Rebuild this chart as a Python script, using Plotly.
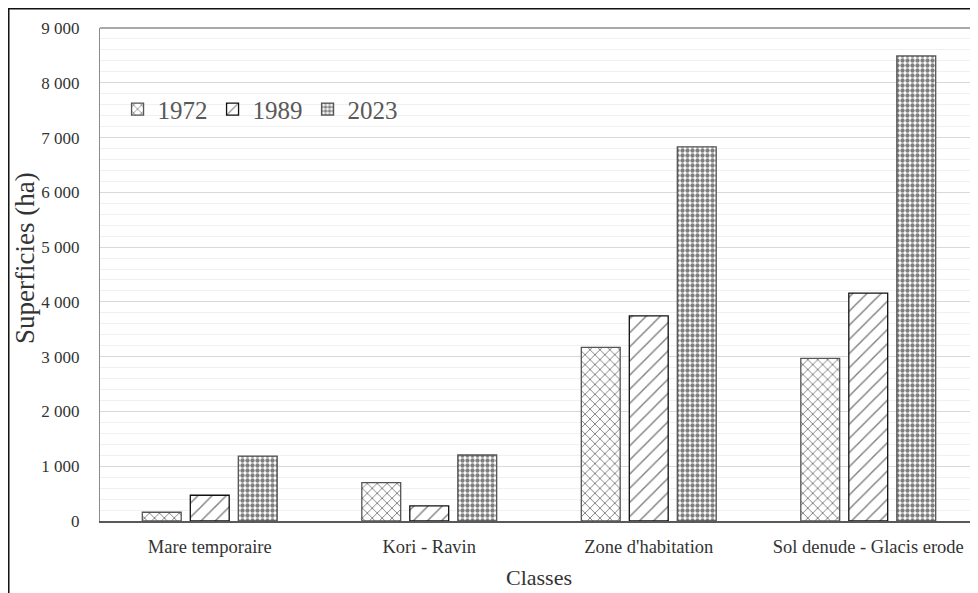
import plotly.graph_objects as go

categories = ["Mare temporaire", "Kori - Ravin", "Zone d'habitation", "Sol denude - Glacis erode"]
years = ["1972", "1989", "2023"]
values_1972 = [160, 700, 3170, 2970]
values_1989 = [470, 275, 3745, 4160]
values_2023 = [1185, 1205, 6830, 8490]
y_ticks = [0, 1000, 2000, 3000, 4000, 5000, 6000, 7000, 8000, 9000]

series = [values_1972, values_1989, values_2023]
patterns = [
    dict(shape="x", size=7, solidity=0.25, fgcolor="black", bgcolor="white"),
    dict(shape="/", size=10, solidity=0.14, fgcolor="black", bgcolor="white"),
    dict(shape=".", size=5, solidity=0.6, fgcolor="black", bgcolor="white"),
]
outline = ["#555555", "#111111", "#555555"]

fig = go.Figure()
for name, vals, pat, oc in zip(years, series, patterns, outline):
    fig.add_trace(go.Bar(
        name=name, x=categories, y=vals,
        marker=dict(color="white", pattern=pat, line=dict(color=oc, width=1.3)),
    ))

font_family = "Liberation Serif, Times New Roman, serif"
# page has an 8px body margin, so the figure is sized/offset to compensate
fig.update_layout(
    width=970, height=585,
    margin=dict(l=92, r=0, t=20, b=72),
    paper_bgcolor="white", plot_bgcolor="white",
    barmode="group", bargap=0.344, bargroupgap=0.19,
    separators=". ",
    font=dict(family=font_family, color="#333333"),
    showlegend=True,
    legend=dict(orientation="h", x=0.02, y=0.835, xanchor="left", yanchor="middle",
                font=dict(size=25, color="#595959", family=font_family),
                bgcolor="rgba(0,0,0,0)", traceorder="normal"),
    xaxis=dict(showline=True, linecolor="#595959", linewidth=1.5,
               tickfont=dict(size=18.5, color="#333333", family=font_family), ticks="", ticklabelstandoff=8,
               title=dict(text="Classes", font=dict(size=22, color="#333333", family=font_family), standoff=14)),
    yaxis=dict(range=[0, 9000], tickvals=y_ticks, tickformat=",d",
               showline=True, linecolor="#8c8c8c", linewidth=1,
               showgrid=True, gridcolor="#d9d9d9", gridwidth=1,
               minor=dict(dtick=200, showgrid=True, gridcolor="#f0f0f0", gridwidth=1),
               tickfont=dict(size=17, color="#333333", family=font_family), ticks="", ticklabelstandoff=16,
               zeroline=False),
    annotations=[
        dict(text="Superficies (ha)", xref="paper", yref="paper",
             x=(17 - 92) / 878, y=(513 - 250) / 493, xanchor="center", yanchor="middle",
             textangle=-90, showarrow=False,
             font=dict(size=27, color="#333333", family=font_family)),
    ],
    shapes=[
        dict(type="line", xref="paper", yref="paper", x0=0, x1=1, y0=1, y1=1,
             line=dict(color="#8c8c8c", width=1.5)),
        dict(type="rect", xref="paper", yref="paper", x0=-0.1039, x1=1.05, y0=-0.3, y1=1.0391,
             line=dict(color="#111111", width=1.5), fillcolor="rgba(0,0,0,0)"),
    ],
)

fig.write_html("out.html")
